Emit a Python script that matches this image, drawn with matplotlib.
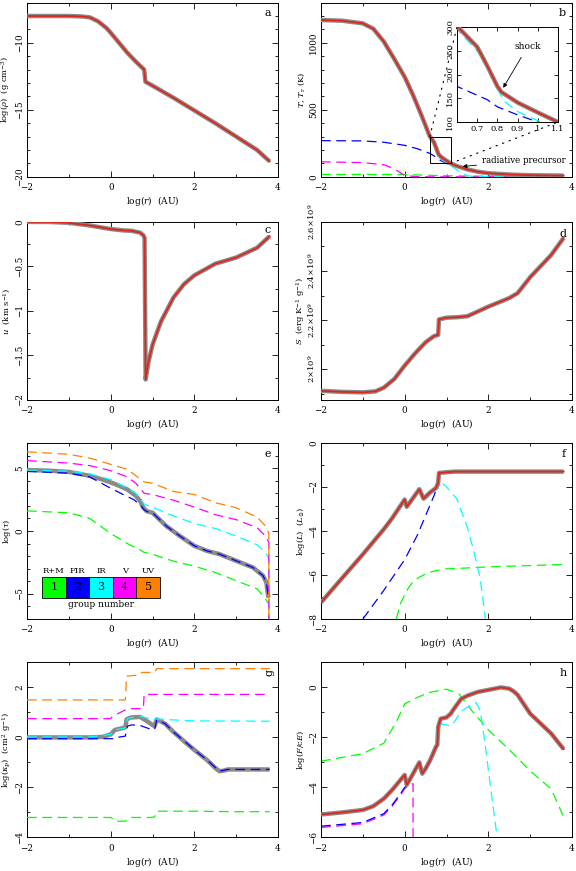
import matplotlib
matplotlib.use("Agg")
import matplotlib.pyplot as plt
from matplotlib.ticker import MultipleLocator, FixedLocator, FixedFormatter, FuncFormatter
from matplotlib.patches import Rectangle, ConnectionPatch

plt.rcParams['font.family'] = 'DejaVu Serif'
plt.rcParams['mathtext.fontset'] = 'dejavuserif'
plt.rcParams['font.size'] = 6.5
plt.rcParams['lines.scale_dashes'] = False

GRAY = '#8a8a8a'
RED = '#e0261a'
C1, C2, C3, C4, C5 = '#00ff00', '#0000ff', '#00ffff', '#ff00ff', '#ff8000'
DASH = (7, 4)

# ---- panel a: density
xa = [-2, -1, -0.7, -0.5, -0.3, -0.1, 0, 0.2, 0.4, 0.6, 0.8, 0.83, 1, 1.5, 2, 2.5, 3, 3.5, 3.8]
rho = [-8, -8, -8.03, -8.1, -8.4, -8.9, -9.25, -10.0, -10.75, -11.4, -12.0, -12.9, -13.2, -14.1,
       -15.05, -16.0, -17.0, -18.0, -18.85]

# ---- panel b: temperatures
xT = [-2, -1.5, -1, -0.75, -0.5, -0.25, 0, 0.2, 0.4, 0.6, 0.7, 0.75, 0.8, 0.82, 0.9, 1.0, 1.1,
      1.25, 1.5, 1.75, 2, 2.5, 3, 3.5, 3.8]
T_gas = [1170, 1165, 1145, 1105, 1010, 880, 745, 610, 460, 302, 258, 218, 175, 163, 141, 120, 100,
         80, 55, 38, 27, 17, 12, 10, 9]
xTc = [-2, -1.5, -1, -0.75, -0.5, -0.25, 0, 0.2, 0.4, 0.6, 0.7, 0.78, 0.8, 0.83, 0.9, 1.0, 1.1,
       1.25, 1.5, 1.7, 2, 3, 3.8]
T_ir = [1170, 1165, 1145, 1105, 1010, 880, 745, 608, 455, 295, 250, 195, 172, 145, 122, 103, 85,
        50, 8, 2, 1, 1, 1]
xTb = [-2, -1, -0.5, 0, 0.3, 0.6, 0.75, 0.8, 0.9, 1.0, 1.1, 1.3, 1.5, 2, 2.5, 3, 3.8]
T_fir = [270, 268, 258, 235, 210, 175, 147, 132, 115, 100, 90, 72, 54, 27, 17, 12, 10]
xTm = [-2, -1, -0.5, -0.25, 0, 0.25, 0.5, 1, 2, 3, 3.8]
T_v = [112, 106, 90, 60, 10, 2, 0, 0, 0, 0, 0]
xTg = [-2, -1, 0, 0.5, 1, 2, 3, 3.8]
T_rm = [18, 18, 17, 12, 8, 5, 4, 4]

# ---- panel c: velocity
xc = [-2, -1.5, -1, -0.5, 0, 0.3, 0.5, 0.7, 0.78, 0.81, 0.835, 0.9, 1.0, 1.2, 1.5, 1.75, 2, 2.5,
      3, 3.5, 3.8]
u = [0, 0, -0.01, -0.04, -0.08, -0.095, -0.1, -0.12, -0.15, -0.18, -1.77, -1.58, -1.38, -1.12,
     -0.85, -0.7, -0.6, -0.47, -0.4, -0.29, -0.16]

# ---- panel d: entropy (units of 1e9)
xd = [-2, -1.5, -1, -0.7, -0.5, -0.25, 0, 0.25, 0.5, 0.7, 0.8, 0.82, 1, 1.25, 1.5, 2, 2.5, 2.7,
      3, 3.5, 3.8]
S9 = [1.912, 1.908, 1.906, 1.91, 1.925, 1.96, 2.015, 2.065, 2.11, 2.135, 2.14, 2.203, 2.21, 2.212,
      2.216, 2.255, 2.29, 2.31, 2.375, 2.465, 2.535]

# ---- panel e: optical depth
xe = [-2, -1.5, -1, -0.75, -0.5, -0.25, 0, 0.2, 0.4, 0.6, 0.7, 0.78, 0.86, 1.0, 1.33, 1.65, 2.0,
      2.3, 2.6, 3.0, 3.4, 3.64, 3.72, 3.77]
tau_tot = [4.85, 4.8, 4.7, 4.55, 4.38, 4.15, 3.87, 3.6, 3.3, 2.8, 2.4, 1.84, 1.58, 1.45, 0.39,
           -0.39, -1.18, -1.58, -1.84, -2.37, -2.9, -3.55, -4.08, -5.3]
xe1 = [-2, -1, -0.5, 0, 0.4, 0.7, 0.8, 1.0, 1.5, 2.0, 2.5, 3.0, 3.5, 3.7, 3.78, 3.78]
tau1 = [1.6, 1.45, 1.0, -0.2, -1.0, -1.5, -1.7, -1.85, -2.4, -2.8, -3.3, -3.95, -4.6, -5.4, -5.8, -7.2]
xe2 = [-2, -1, -0.5, -0.25, 0, 0.3, 0.55, 0.7, 0.8, 0.86, 1.0, 1.33, 1.65, 2.0, 2.3, 2.6, 3.0,
       3.4, 3.64, 3.72, 3.77]
tau2 = [4.75, 4.6, 4.3, 3.85, 3.4, 2.9, 2.5, 2.1, 1.7, 1.55, 1.45, 0.39, -0.39, -1.18, -1.58,
        -1.84, -2.37, -2.9, -3.55, -4.08, -5.3]
xe3 = [-2, -1, -0.5, 0, 0.4, 0.6, 0.8, 0.9, 1.0, 1.5, 2.0, 2.5, 3.0, 3.5, 3.7, 3.78, 3.78]
tau3 = [4.85, 4.75, 4.55, 4.1, 3.4, 3.0, 2.15, 2.0, 1.9, 1.2, 0.6, 0.2, -0.4, -1.1, -1.7, -2.2, -7.2]
xe4 = [-2, -1, -0.5, 0, 0.4, 0.6, 0.8, 1.0, 1.5, 2.0, 2.5, 3.0, 3.5, 3.7, 3.78, 3.78]
tau4 = [5.6, 5.4, 5.2, 4.8, 4.3, 3.8, 3.0, 2.9, 2.45, 1.9, 1.3, 0.9, 0.26, -0.4, -0.9, -7.2]
xe5 = [-2, -1, -0.5, 0, 0.4, 0.6, 0.8, 1.0, 1.5, 2.0, 2.5, 3.0, 3.5, 3.7, 3.78, 3.78]
tau5 = [6.3, 6.1, 5.8, 5.3, 4.9, 4.4, 3.9, 3.8, 3.15, 2.9, 2.25, 1.85, 1.1, 0.4, -0.2, -7.2]
group_names = ['R+M', 'FIR', 'IR', 'V', 'UV']
group_ids = ['1', '2', '3', '4', '5']

# ---- panel f: luminosity
xf = [-2, -1.5, -1, -0.5, -0.3, -0.1, 0, 0.05, 0.2, 0.35, 0.45, 0.6, 0.75, 0.8, 0.82, 1.0, 1.2,
      2, 3, 3.8]
L_tot = [-7.25, -6.15, -5.06, -3.92, -3.42, -2.85, -2.57, -2.9, -2.5, -2.1, -2.53, -2.26, -2.04,
         -1.81, -1.36, -1.33, -1.3, -1.3, -1.3, -1.3]
xf2 = [-1.0, -0.5, 0, 0.3, 0.5, 0.7, 0.8, 0.83, 1.0, 1.2, 2, 3.8]
L_fir = [-8, -6.7, -5.3, -4.2, -3.3, -2.4, -1.85, -1.4, -1.35, -1.3, -1.3, -1.3]
xf3 = [-2, -1.5, -1, -0.5, -0.3, -0.1, 0, 0.05, 0.2, 0.35, 0.5, 0.65, 0.8, 0.85, 1.0, 1.25, 1.5,
       1.65, 1.8, 1.9, 1.95]
L_ir = [-7.25, -6.15, -5.06, -3.92, -3.42, -2.85, -2.57, -2.9, -2.5, -2.15, -2.55, -2.3, -2.05,
        -1.75, -2.0, -2.55, -3.85, -4.9, -6.1, -7.5, -8.3]
xf1 = [-0.2, -0.1, 0, 0.1, 0.2, 0.35, 0.5, 0.7, 1.0, 1.5, 2, 2.5, 3, 3.8]
L_rm = [-8, -7.3, -6.9, -6.55, -6.3, -6.1, -5.95, -5.82, -5.72, -5.68, -5.63, -5.6, -5.57, -5.52]

# ---- panel g: Planck opacity
xg = [-2, -0.5, -0.2, 0, 0.1, 0.35, 0.38, 0.45, 0.5, 0.7, 0.8, 1.0, 1.05, 1.1, 1.3, 1.5, 1.8, 2,
      2.3, 2.5, 2.6, 2.7, 2.8, 3.8]
kap_tot = [0, 0, 0.02, 0.12, 0.3, 0.4, 0.72, 0.78, 0.8, 0.82, 0.72, 0.5, 0.45, 0.72, 0.55, 0.22,
           -0.22, -0.5, -0.9, -1.22, -1.35, -1.33, -1.28, -1.28]
xg1 = [-2, 0, 0.05, 0.1, 0.35, 0.4, 0.5, 0.95, 1.05, 1.1, 2, 3, 3.8]
kap1 = [-3.2, -3.2, -3.25, -3.35, -3.35, -3.3, -3.2, -3.2, -3.18, -2.95, -2.95, -2.97, -2.97]
xg2 = [-2, 0.1, 0.15, 0.35, 0.4, 0.5, 0.7, 1.0, 1.05, 1.1, 1.3, 1.5, 1.8, 2, 2.3, 2.5, 2.6, 2.8, 3.8]
kap2 = [-0.05, -0.05, 0.0, 0.05, 0.45, 0.5, 0.48, 0.3, 0.32, 0.7, 0.55, 0.22, -0.2, -0.5, -0.9,
        -1.2, -1.35, -1.28, -1.28]
xg3 = [-2, -0.5, 0, 0.1, 0.35, 0.4, 0.5, 0.7, 0.8, 1.0, 1.5, 2, 3.8]
kap3 = [0.02, 0.02, 0.12, 0.3, 0.38, 0.75, 0.8, 0.85, 0.8, 0.75, 0.7, 0.66, 0.65]
xg4 = [-2, 0, 0.05, 0.35, 0.4, 0.5, 0.78, 0.8, 3.8]
kap4 = [0.75, 0.75, 0.85, 1.1, 1.15, 1.15, 1.15, 1.72, 1.72]
xg5 = [-2, 0.1, 0.35, 0.38, 0.7, 0.75, 1.05, 1.1, 3.8]
kap5 = [1.5, 1.5, 1.5, 2.45, 2.5, 2.6, 2.6, 2.75, 2.75]

# ---- panel h: flux ratio
xh = [-2, -1.5, -1, -0.75, -0.5, -0.3, -0.1, 0, 0.05, 0.2, 0.35, 0.42, 0.5, 0.6, 0.75, 0.78, 0.8,
      0.86, 1.0, 1.1, 1.2, 1.35, 1.5, 1.75, 2, 2.3, 2.5, 2.6, 2.7, 3, 3.5, 3.8]
F_tot = [-5.08, -5.0, -4.9, -4.75, -4.45, -4.1, -3.7, -3.5, -3.9, -3.45, -3.0, -3.45, -3.25,
         -2.94, -2.37, -2.3, -1.58, -1.25, -1.2, -1.05, -0.8, -0.46, -0.33, -0.18, -0.1, 0, -0.05,
         -0.15, -0.3, -1.05, -1.84, -2.47]
xh2 = [-2, -1, -0.5, -0.3, -0.1, 0, 0.05, 0.2, 0.35, 0.42, 0.5, 0.6, 0.75, 0.78, 0.8, 0.86, 1.0]
F_fir = [-5.55, -5.4, -5.05, -4.7, -4.25, -4.0, -3.92, -3.45, -3.0, -3.45, -3.2, -2.9, -2.3,
         -2.25, -1.58, -1.25, -1.2]
xh4 = [-2, -1, -0.5, -0.3, -0.1, 0, 0.1, 0.2, 0.2]
F_v = [-5.6, -5.45, -5.1, -4.75, -4.3, -4.05, -3.9, -3.85, -6.5]
xh3 = [-2, -1, -0.5, 0, 0.05, 0.2, 0.35, 0.42, 0.5, 0.6, 0.75, 0.8, 0.86, 1.0, 1.1, 1.2, 1.35,
       1.5, 1.7, 1.8, 1.9, 2.0, 2.1, 2.25]
F_ir = [-5.08, -4.9, -4.45, -3.5, -3.9, -3.45, -3.0, -3.45, -3.28, -2.96, -2.4, -1.6, -1.45,
        -1.5, -1.55, -1.35, -0.95, -0.79, -0.6, -0.9, -2.0, -3.3, -4.6, -6.5]
xh1 = [-2, -1, -0.5, -0.2, 0, 0.3, 0.6, 1.0, 1.3, 1.6, 2, 2.5, 3, 3.5, 3.8]
F_rm = [-2.95, -2.65, -2.23, -1.38, -0.66, -0.4, -0.2, -0.07, -0.26, -0.92, -1.7, -2.49, -3.34,
        -4.06, -5.18]

fmt_g = FuncFormatter(lambda v, p: ('%g' % round(v, 6)).replace('-', '\u2212'))


def dashed(ax, x, y, c, lw=0.9, z=2):
    ax.plot(x, y, color=c, lw=lw, dashes=DASH, zorder=z)


def total(ax, x, y, red=True):
    ax.plot(x, y, color=GRAY, lw=3.2, zorder=3, solid_capstyle='butt')
    if red:
        ax.plot(x, y, color=RED, lw=1.3, zorder=4)


def style(ax, ylim, ymaj, ymin, ylabel, letter, lpos=(0.96, 0.94), lrot=0):
    ax.set_xlim(-2, 4)
    ax.set_ylim(*ylim)
    ax.xaxis.set_major_locator(MultipleLocator(2))
    ax.xaxis.set_minor_locator(MultipleLocator(1))
    ax.yaxis.set_major_locator(MultipleLocator(ymaj))
    ax.yaxis.set_minor_locator(MultipleLocator(ymin))
    ax.xaxis.set_major_formatter(fmt_g)
    ax.yaxis.set_major_formatter(fmt_g)
    ax.tick_params(which='both', direction='in', top=True, right=True, width=0.6, labelsize=6.3)
    ax.tick_params(which='major', length=4)
    ax.tick_params(which='minor', length=2)
    ax.tick_params(axis='y', pad=2)
    ax.tick_params(axis='x', pad=4.5)
    for lbl in ax.get_yticklabels():
        lbl.set_rotation(90)
        lbl.set_va('center')
    for s in ax.spines.values():
        s.set_linewidth(0.7)
    ax.set_xlabel(r'log($r$)  (AU)', fontsize=6.5, labelpad=1.5)
    ax.set_ylabel(ylabel, fontsize=6)
    ax.yaxis.set_label_coords(-0.056, 0.5)
    ax.text(lpos[0], lpos[1], letter, transform=ax.transAxes, ha='center', va='center',
            fontsize=8, rotation=lrot)


fig = plt.figure(figsize=(5.76, 8.71), dpi=100)
W = 0.4358
lefts = [0.0469, 0.5573]
rows = [(0.797, 0.200), (0.5408, 0.2044), (0.2893, 0.2021), (0.0385, 0.2010)]
axs = [[fig.add_axes([l, b, W, h]) for l in lefts] for b, h in rows]

# a
ax = axs[0][0]
total(ax, xa, rho)
style(ax, (-20, -7), 5, 1, r'log($\rho$)  (g cm$^{-3}$)', 'a')

# b
ax = axs[0][1]
dashed(ax, xTg, T_rm, C1)
dashed(ax, xTm, T_v, C4)
dashed(ax, xTb, T_fir, C2)
dashed(ax, xTc, T_ir, C3)
total(ax, xT, T_gas)
style(ax, (0, 1300), 500, 100, r'$T$, $T_{\rm r}$ (K)', 'b')
ax.add_patch(Rectangle((0.6, 100), 0.5, 200, fill=False, lw=0.7, ec='k', zorder=5))
ax.annotate('radiative precursor', xy=(1.32, 75), xytext=(1.85, 120), fontsize=6.2,
            va='center', ha='left',
            arrowprops=dict(arrowstyle='-|>', color='k', lw=0.6, mutation_scale=6))
ins = fig.add_axes([0.7934, 0.8599, 0.1753, 0.1091])
dashed(ins, xTb, T_fir, C2)
dashed(ins, xTc, T_ir, C3)
ins.plot(xT, T_gas, color=GRAY, lw=3.2, zorder=3)
ins.plot(xT, T_gas, color=RED, lw=1.3, zorder=4)
ins.set_xlim(0.6, 1.1)
ins.set_ylim(100, 300)
ins.xaxis.set_major_locator(FixedLocator([0.7, 0.8, 0.9, 1.0, 1.1]))
ins.xaxis.set_major_formatter(FixedFormatter(['0.7', '0.8', '0.9', '1', '1.1']))
ins.yaxis.set_major_locator(MultipleLocator(50))
ins.tick_params(which='both', direction='in', top=True, right=True, width=0.6, labelsize=6,
                length=3, pad=2)
for lbl in ins.get_yticklabels():
    lbl.set_rotation(90)
    lbl.set_va('center')
for s in ins.spines.values():
    s.set_linewidth(0.7)
ins.annotate('shock', xy=(0.822, 167), xytext=(0.95, 259), fontsize=6.5, ha='center', va='center',
             arrowprops=dict(arrowstyle='-|>', color='k', lw=0.6, mutation_scale=6, shrinkA=3))
for pa, pb in [((0.6, 300), (0.6, 300)), ((1.1, 100), (1.1, 100))]:
    con = ConnectionPatch(xyA=pa, coordsA=ax.transData, xyB=pb, coordsB=ins.transData,
                          ls=(0, (1, 4)), lw=0.8, color='k', zorder=1)
    fig.add_artist(con)

# c
ax = axs[1][0]
total(ax, xc, u)
style(ax, (-2, 0), 0.5, 0.25, r'$u$  (km s$^{-1}$)', 'c', lpos=(0.96, 0.955))

# d
ax = axs[1][1]
total(ax, xd, S9)
style(ax, (1.875, 2.6), 0.2, 0.1, r'$S$  (erg K$^{-1}$ g$^{-1}$)', 'd', lpos=(0.965, 0.93))
ax.yaxis.set_major_locator(FixedLocator([2.0, 2.2, 2.4, 2.6]))
ax.yaxis.set_major_formatter(FixedFormatter([r'$2{\times}10^9$', r'$2.2{\times}10^9$',
                                             r'$2.4{\times}10^9$', r'$2.6{\times}10^9$']))
for lbl in ax.get_yticklabels():
    lbl.set_rotation(90)
    lbl.set_va('center')
    lbl.set_fontsize(6)

# e
ax = axs[2][0]
total(ax, xe, tau_tot, red=False)
dashed(ax, xe1, tau1, C1, z=5)
dashed(ax, xe2, tau2, C2, z=5)
dashed(ax, xe3, tau3, C3, z=5)
dashed(ax, xe4, tau4, C4, z=5)
dashed(ax, xe5, tau5, C5, z=5)
style(ax, (-7, 7), 5, 1, r'log($\tau$)', 'e')
bw = 0.094
for i, c in enumerate([C1, C2, C3, C4, C5]):
    x0 = 0.06 + i * bw
    ax.add_patch(Rectangle((x0, 0.12), bw, 0.12, transform=ax.transAxes, fc=c, ec='k',
                           lw=0.6, zorder=6))
    ax.text(x0 + bw / 2, 0.18, group_ids[i], transform=ax.transAxes, ha='center', va='center',
            fontsize=8, zorder=7)
    ax.text(x0 + bw / 2, 0.275, group_names[i], transform=ax.transAxes, ha='center',
            va='center', fontsize=6, zorder=7)
ax.text(0.06 + 2.5 * bw, 0.085, 'group number', transform=ax.transAxes, ha='center',
        va='center', fontsize=6.5, zorder=7)

# f
ax = axs[2][1]
dashed(ax, xf1, L_rm, C1)
dashed(ax, xf3, L_ir, C3)
dashed(ax, xf2, L_fir, C2)
total(ax, xf, L_tot)
style(ax, (-8, 0), 2, 1, r'log($L$)  ($L_{\odot}$)', 'f', lpos=(0.965, 0.94))

# g
ax = axs[3][0]
total(ax, xg, kap_tot, red=False)
dashed(ax, xg1, kap1, C1, z=5)
dashed(ax, xg2, kap2, C2, z=5)
dashed(ax, xg3, kap3, C3, z=5)
dashed(ax, xg4, kap4, C4, z=5)
dashed(ax, xg5, kap5, C5, z=5)
style(ax, (-4, 3), 2, 1, r'log($\kappa_{\rm P}$)  (cm$^2$ g$^{-1}$)', 'g', lpos=(0.965, 0.94),
      lrot=90)

# h
ax = axs[3][1]
dashed(ax, xh1, F_rm, C1)
dashed(ax, xh3, F_ir, C3)
dashed(ax, xh4, F_v, C4)
dashed(ax, xh2, F_fir, C2)
total(ax, xh, F_tot)
style(ax, (-6, 1), 2, 1, r'log($F$/c$E$)', 'h', lpos=(0.965, 0.94))

fig.savefig('out.png', dpi=100)
